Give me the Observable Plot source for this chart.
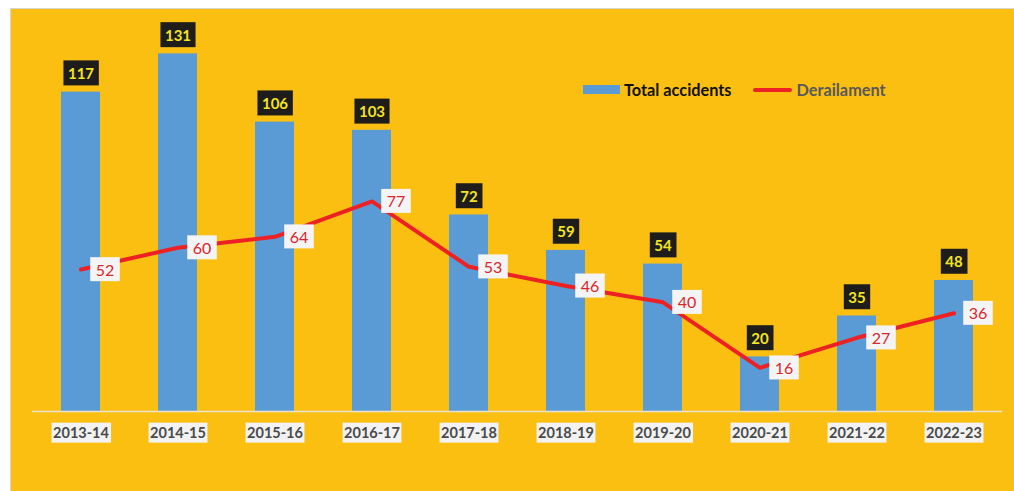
<!DOCTYPE html>
<html>
<head>
<meta charset="utf-8">
<script src="https://cdn.jsdelivr.net/npm/d3@7"></script>
<script src="https://cdn.jsdelivr.net/npm/@observablehq/plot@0.6"></script>
<style>
  html, body { margin: 0; padding: 0; background: #ffffff; }
  #wrap { position: relative; width: 1014px; height: 491px; overflow: hidden; font-family: Lato, "Open Sans", sans-serif; }
  #bg { position: absolute; left: 10px; top: 8px; right: 0; bottom: 0; background: #FBBF12; border-top: 1px solid #d6d6d6; border-left: 1px solid #d6d6d6; }
  #chart { position: absolute; left: 0; top: 0; }
  #legend { position: absolute; left: 583px; top: 80px; display: flex; align-items: center; font-weight: 700; font-size: 16.3px; }
  .sw { display: inline-block; }
</style>
</head>
<body>
<div id="wrap">
  <div id="bg"></div>
  <div id="chart"></div>
  <div id="legend">
    <span class="sw" style="width:37px;height:9px;background:#5B9BD5;margin-right:4px;"></span>
    <span style="color:#111;">Total accidents</span>
    <span class="sw" style="width:39px;height:4px;background:#ED2124;margin-left:22px;margin-right:4px;border-radius:2px;"></span>
    <span style="color:#595959;">Derailament</span>
  </div>
</div>
<script>
const years = ["2013-14","2014-15","2015-16","2016-17","2017-18","2018-19","2019-20","2020-21","2021-22","2022-23"];
const totalAccidents = [117,131,106,103,72,59,54,20,35,48];
const derailment = [52,60,64,77,53,46,40,16,27,36];

const rows = years.map((y, i) => ({year: y, total: totalAccidents[i], derail: derailment[i]}));

const plot = Plot.plot({
  width: 1014,
  height: 491,
  marginLeft: 32,
  marginRight: 12,
  marginTop: 28.8,
  marginBottom: 80,
  style: {background: "transparent", fontFamily: "Lato, 'Open Sans', sans-serif", overflow: "visible"},
  x: {domain: years, paddingInner: 0.6, paddingOuter: 0.3, axis: null},
  y: {domain: [0, 140], axis: null},
  marks: [
    Plot.barY(rows, {x: "year", y: "total", fill: "#5B9BD5"}),
    Plot.ruleY([0], {stroke: "#E9E3CF", strokeWidth: 1.5}),
    Plot.line(rows, {x: "year", y: "derail", stroke: "#ED2124", strokeWidth: 4, strokeLinejoin: "miter"}),
    Plot.text(rows, {x: "year", y: "total", text: d => String(d.total), dy: -18, fill: "#F3E51E", fontWeight: 700, fontSize: 15, className: "vlabel"}),
    Plot.text(rows, {x: "year", y: "derail", text: d => String(d.derail), dx: 24, dy: 1, fill: "#D8262E", fontSize: 16, className: "llabel"}),
    Plot.text(rows, {x: "year", y: 0, text: "year", dy: 22, fill: "#4A4A4A", fontWeight: 700, fontSize: 14.5, className: "xlabel"})
  ]
});

document.getElementById("chart").appendChild(plot);

function boxes(cls, fill, padX, padY, fixedH) {
  plot.querySelectorAll("g." + cls + " text").forEach(t => {
    const b = t.getBBox();
    const r = document.createElementNS("http://www.w3.org/2000/svg", "rect");
    const h = fixedH || (b.height + 2 * padY);
    const cy = b.y + b.height / 2;
    r.setAttribute("x", b.x - padX);
    r.setAttribute("y", cy - h / 2);
    r.setAttribute("width", b.width + 2 * padX);
    r.setAttribute("height", h);
    r.setAttribute("fill", fill);
    const tr = t.getAttribute("transform");
    if (tr) r.setAttribute("transform", tr);
    t.parentNode.insertBefore(r, t);
  });
}
boxes("vlabel", "#1F1D1C", 4.5, 0, 25);
boxes("llabel", "#F4F4F4", 5.5, 0, 24);
boxes("xlabel", "#F2F2F2", 1.5, 0, 20);
</script>
</body>
</html>
